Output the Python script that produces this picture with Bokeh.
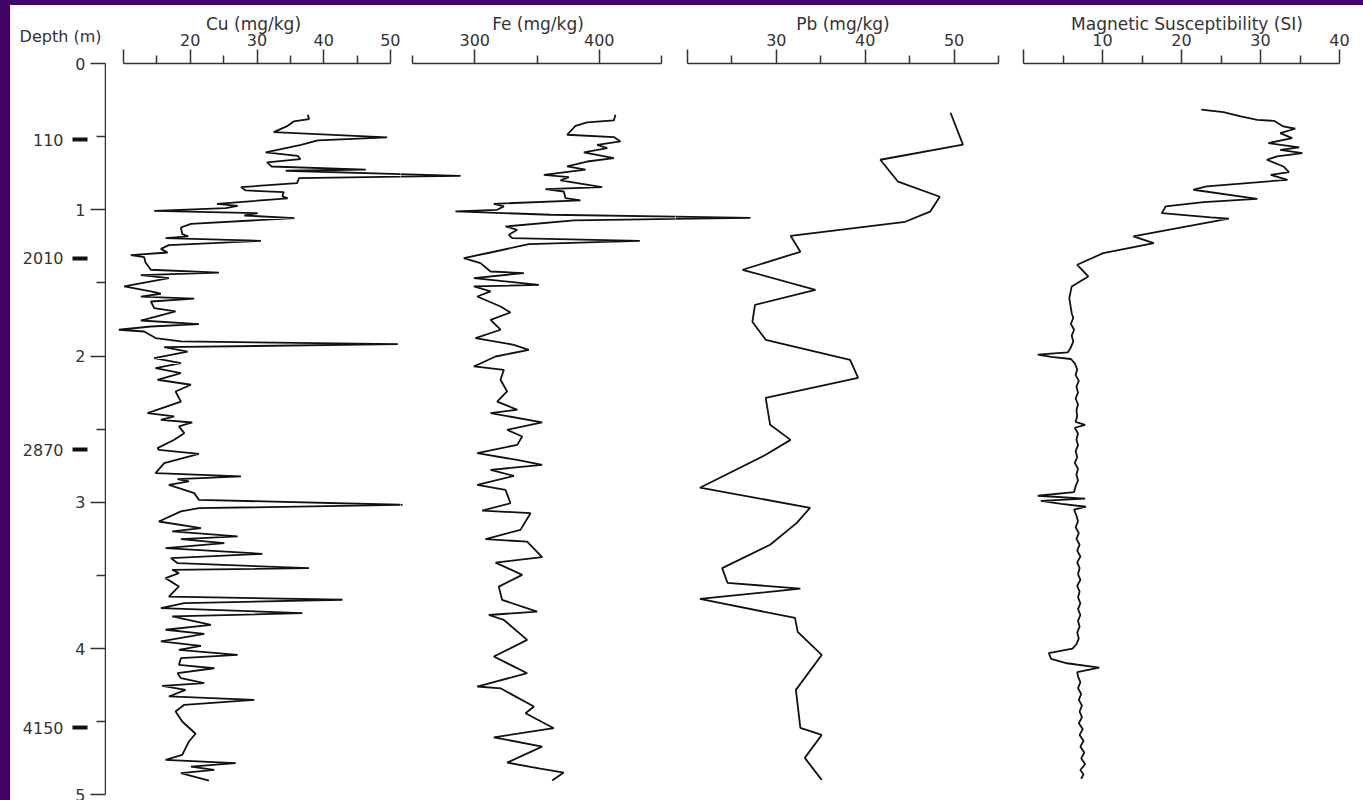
from bokeh.plotting import figure
from bokeh.layouts import row, column
from bokeh.models import Range1d, LinearAxis, FixedTicker, Title, Spacer
from bokeh.embed import file_html
from bokeh.resources import INLINE

# ---------------- data (depth in m, values) ----------------
cu_depth = [0.350, 0.380, 0.396, 0.426, 0.469, 0.505, 0.526, 0.556, 0.608, 0.631,
            0.654, 0.676, 0.704, 0.726, 0.733, 0.768, 0.783, 0.818, 0.845, 0.868,
            0.879, 0.909, 0.922, 0.959, 0.973, 0.989, 1.007, 1.023, 1.039, 1.057,
            1.096, 1.121, 1.166, 1.182, 1.194, 1.212, 1.242, 1.267, 1.292, 1.310,
            1.324, 1.360, 1.410, 1.429, 1.447, 1.467, 1.524, 1.558, 1.574, 1.593,
            1.608, 1.627, 1.672, 1.695, 1.757, 1.782, 1.798, 1.820, 1.832, 1.877,
            1.900, 1.919, 1.939, 1.969, 2.014, 2.048, 2.083, 2.117, 2.162, 2.196,
            2.242, 2.311, 2.390, 2.413, 2.436, 2.454, 2.481, 2.527, 2.572, 2.629,
            2.641, 2.668, 2.732, 2.800, 2.823, 2.841, 2.857, 2.880, 2.937, 2.983,
            3.017, 3.040, 3.062, 3.131, 3.176, 3.199, 3.233, 3.252, 3.279, 3.313,
            3.352, 3.381, 3.416, 3.450, 3.461, 3.484, 3.518, 3.575, 3.644, 3.666,
            3.689, 3.723, 3.757, 3.780, 3.837, 3.871, 3.899, 3.951, 3.981, 4.008,
            4.042, 4.065, 4.111, 4.134, 4.168, 4.202, 4.236, 4.254, 4.282, 4.327,
            4.350, 4.384, 4.430, 4.498, 4.582, 4.635, 4.726, 4.760, 4.783, 4.806,
            4.829, 4.851, 4.902]
cu_vals = [37.6, 37.8, 35.5, 34.6, 32.5, 49.5, 39.1, 36.6, 31.3, 36.1,
           36.5, 31.5, 32.2, 46.3, 34.3, 60.5, 36.3, 36.0, 27.6, 28.3,
           34.0, 33.8, 34.6, 24.0, 27.1, 25.3, 14.6, 30.1, 28.1, 35.6,
           20.1, 18.6, 18.8, 19.7, 16.3, 30.6, 16.8, 15.6, 16.6, 11.1,
           13.1, 13.3, 14.1, 24.3, 12.6, 16.8, 10.1, 14.1, 15.6, 12.6,
           20.6, 14.1, 14.6, 17.8, 12.6, 21.3, 14.1, 9.3, 13.1, 14.8,
           18.6, 51.1, 16.1, 19.6, 14.6, 18.6, 14.8, 18.6, 15.1, 20.1,
           17.8, 18.6, 13.6, 17.6, 15.6, 20.3, 18.3, 19.1, 17.6, 15.1,
           15.3, 21.3, 16.1, 14.8, 27.6, 18.1, 19.8, 16.8, 20.6, 21.3,
           51.8, 21.3, 18.6, 15.3, 21.6, 17.3, 27.1, 18.6, 25.1, 16.3,
           30.8, 17.1, 18.1, 37.8, 17.3, 18.3, 16.3, 18.3, 16.8, 42.8,
           19.1, 15.6, 36.8, 17.3, 23.1, 16.3, 22.1, 15.6, 21.6, 18.3,
           27.1, 18.6, 18.3, 23.6, 18.1, 18.6, 22.1, 15.8, 19.3, 16.8,
           29.6, 19.1, 17.8, 18.8, 20.8, 19.8, 18.8, 16.3, 26.8, 20.1,
           23.6, 18.6, 22.8]

fe_depth = [0.350, 0.389, 0.403, 0.426, 0.487, 0.503, 0.533, 0.556, 0.578, 0.608,
            0.647, 0.670, 0.704, 0.726, 0.761, 0.777, 0.799, 0.845, 0.859, 0.875,
            0.920, 0.936, 0.959, 0.977, 1.000, 1.011, 1.034, 1.055, 1.073, 1.114,
            1.137, 1.171, 1.194, 1.212, 1.235, 1.292, 1.330, 1.365, 1.422, 1.433,
            1.467, 1.513, 1.524, 1.558, 1.593, 1.661, 1.702, 1.752, 1.820, 1.877,
            1.923, 1.957, 2.003, 2.071, 2.094, 2.162, 2.242, 2.311, 2.367, 2.390,
            2.454, 2.504, 2.550, 2.607, 2.664, 2.710, 2.744, 2.778, 2.819, 2.881,
            2.915, 3.006, 3.056, 3.074, 3.188, 3.252, 3.268, 3.375, 3.412, 3.496,
            3.576, 3.667, 3.747, 3.770, 3.804, 3.940, 4.054, 4.168, 4.259, 4.271,
            4.396, 4.442, 4.544, 4.606, 4.670, 4.779, 4.818, 4.847, 4.902]
fe_vals = [413.0, 411.7, 390.3, 380.9, 374.2, 411.7, 417.1, 398.3, 406.4, 387.6,
           411.7, 390.3, 374.2, 389.0, 355.5, 375.6, 368.9, 402.3, 356.8, 371.5,
           372.9, 384.9, 315.3, 323.4, 318.0, 284.5, 360.8, 521.5, 379.6, 324.7,
           334.1, 327.4, 330.1, 432.6, 343.4, 312.7, 291.2, 304.6, 312.7, 339.4,
           299.3, 351.5, 299.3, 312.7, 302.0, 320.7, 328.7, 312.7, 320.7, 300.6,
           331.4, 343.4, 316.7, 299.3, 323.4, 320.7, 326.0, 318.0, 334.1, 312.7,
           354.1, 326.0, 338.1, 334.1, 302.0, 334.1, 354.1, 312.7, 331.4, 302.0,
           324.7, 328.7, 306.0, 344.8, 336.7, 308.6, 342.1, 354.1, 316.7, 338.1,
           319.3, 322.0, 350.1, 311.3, 323.4, 342.1, 315.3, 342.1, 302.0, 320.7,
           347.5, 340.8, 363.5, 315.3, 354.1, 326.0, 351.5, 371.5, 362.2]

pb_depth = [0.337, 0.555, 0.658, 0.808, 0.911, 1.013, 1.082, 1.178, 1.287, 1.410,
            1.547, 1.650, 1.766, 1.889, 2.026, 2.149, 2.286, 2.470, 2.573, 2.675,
            2.900, 3.037, 3.140, 3.290, 3.450, 3.550, 3.590, 3.660, 3.790, 3.885,
            4.043, 4.282, 4.542, 4.590, 4.747, 4.897]
pb_vals = [49.6, 51.0, 41.7, 43.7, 48.4, 47.3, 44.5, 31.6, 32.7, 26.2,
           34.4, 27.6, 27.3, 28.8, 38.3, 39.2, 28.8, 29.3, 31.6, 28.8,
           21.4, 33.8, 32.3, 29.3, 23.9, 24.5, 32.7, 21.4, 32.1, 32.4,
           35.1, 32.2, 32.7, 35.1, 33.2, 35.1]

ms_depth = [0.316, 0.332, 0.362, 0.385, 0.392, 0.430, 0.446, 0.476, 0.510, 0.544,
            0.574, 0.590, 0.613, 0.635, 0.658, 0.704, 0.742, 0.761, 0.795, 0.840,
            0.863, 0.925, 0.948, 0.977, 1.023, 1.052, 1.061, 1.114, 1.182, 1.228,
            1.296, 1.376, 1.456, 1.524, 1.604, 1.707, 1.74, 1.78, 1.82, 1.86,
            1.90, 1.94, 1.975, 1.99, 2.005, 2.02, 2.05, 2.09, 2.13, 2.17,
            2.21, 2.25, 2.29, 2.33, 2.37, 2.41, 2.45, 2.47, 2.49, 2.53,
            2.57, 2.61, 2.65, 2.69, 2.73, 2.77, 2.81, 2.85, 2.89, 2.93,
            2.955, 2.975, 2.99, 3.01, 3.03, 3.05, 3.09, 3.13, 3.17, 3.21,
            3.25, 3.29, 3.33, 3.37, 3.41, 3.45, 3.49, 3.53, 3.57, 3.61,
            3.65, 3.69, 3.73, 3.77, 3.81, 3.85, 3.89, 3.93, 3.97, 4.00,
            4.03, 4.07, 4.10, 4.13, 4.16, 4.19, 4.23, 4.27, 4.31, 4.35,
            4.39, 4.43, 4.47, 4.51, 4.55, 4.59, 4.63, 4.67, 4.71, 4.75,
            4.79, 4.83, 4.86, 4.89]
ms_vals = [22.5, 25.3, 27.5, 29.6, 31.7, 32.9, 34.4, 32.5, 34.0, 31.0,
           34.9, 32.5, 35.3, 32.1, 30.8, 32.9, 33.6, 31.3, 33.4, 23.2,
           21.5, 29.6, 22.8, 18.0, 17.5, 23.7, 26.0, 20.7, 13.9, 16.5,
           10.1, 6.8, 8.2, 6.1, 5.8, 6.1, 6.3, 6.0, 6.4, 6.1,
           6.3, 6.0, 5.6, 1.8, 3.5, 6.0, 6.5, 6.8, 6.6, 7.0,
           6.7, 6.9, 6.6, 6.9, 6.7, 6.8, 6.6, 7.8, 6.5, 6.9,
           6.7, 6.9, 6.6, 6.8, 6.5, 6.9, 6.7, 6.9, 6.6, 6.4,
           1.8, 7.8, 2.2, 4.8, 7.9, 6.4, 6.7, 6.9, 6.6, 7.0,
           6.7, 7.1, 6.8, 7.2, 6.8, 7.1, 6.9, 7.2, 6.8, 7.1,
           6.9, 7.2, 6.9, 7.2, 6.9, 7.1, 6.8, 7.0, 6.7, 6.2,
           3.2, 3.5, 5.5, 9.6, 6.8, 6.9, 7.2, 6.9, 7.3, 7.0,
           7.4, 7.1, 7.4, 7.0, 7.5, 7.1, 7.6, 7.2, 7.7, 7.3,
           7.8, 7.2, 7.6, 7.3]

age_depths = [0.52, 1.33, 2.64, 4.54]
age_labels = ["110", "2010", "2870", "4150"]

depth_ticks = [0, 1, 2, 3, 4, 5]
depth_minor = [0.5, 1.5, 2.5, 3.5, 4.5]

# ---------------- layout constants ----------------
PURPLE = "#3f0466"
BAND_L = 10            # purple band on the left
BAND_T = 5             # purple band on top
H = 795                # figure height (below the top band)
FRAME_TOP = 58         # border above the frames
FRAME = [106, 400, 675, 1010, 1363]          # frame edges (page px)
CU_AX = (10, 123, 50, 390)                   # value, px, value, px
FE_AX = (250, 412, 450, 661)
PB_AX = (20, 687, 55, 998)
MS_AX = (0, 1023, 40, 1339)

FONT = "DejaVu Sans"
TXT = "#333333"
AX = "#333333"
LINE = "#111111"
LW = 1.8


def lin_range(v0, p0, v1, p1, a, b):
    k = (v1 - v0) / (p1 - p0)
    return Range1d(v0 + (a - p0) * k, v0 + (b - p0) * k)


yr = Range1d(5.004, 0)


def base_fig(w, xr, left=0, yloc=None, xloc="above"):
    p = figure(width=w, height=H, x_range=xr, y_range=yr,
               x_axis_location=xloc, y_axis_location=yloc,
               toolbar_location=None, output_backend="svg",
               min_border_left=left, min_border_right=0,
               min_border_top=FRAME_TOP, min_border_bottom=5)
    p.xgrid.visible = False
    p.ygrid.visible = False
    p.outline_line_color = None
    p.background_fill_color = "white"
    p.border_fill_color = "white"
    return p


def style_axis(ax, ticks, minor, bounds, label, hide):
    ax.ticker = FixedTicker(ticks=ticks, minor_ticks=minor)
    ax.bounds = bounds
    ax.axis_label = label
    if hide is not None:
        ax.major_label_overrides = {hide: ""}
    ax.major_tick_out = 14
    ax.major_tick_in = 0
    ax.minor_tick_out = 8
    ax.minor_tick_in = 0
    ax.axis_line_width = 1.5
    ax.major_tick_line_width = 1.5
    ax.minor_tick_line_width = 1.5
    ax.axis_line_color = AX
    ax.major_tick_line_color = AX
    ax.minor_tick_line_color = AX
    ax.major_label_text_font = FONT
    ax.major_label_text_font_size = "16px"
    ax.major_label_text_color = TXT
    ax.major_label_standoff = 4
    ax.axis_label_text_font = FONT
    ax.axis_label_text_font_size = "17px"
    ax.axis_label_text_font_style = "normal"
    ax.axis_label_text_color = TXT
    ax.axis_label_standoff = -3


# ---- depth axis panel (frame 1 px wide) ----
f0 = base_fig(FRAME[0] - BAND_L, Range1d(0, 1), left=FRAME[0] - BAND_L - 1,
              yloc="left", xloc=None)
ya = f0.yaxis[0]
ya.ticker = FixedTicker(ticks=depth_ticks, minor_ticks=depth_minor)
ya.bounds = (0, 5)
ya.major_tick_out = 15
ya.major_tick_in = 0
ya.minor_tick_out = 9
ya.minor_tick_in = 0
ya.axis_line_width = 1.5
ya.major_tick_line_width = 1.5
ya.minor_tick_line_width = 1.5
ya.axis_line_color = AX
ya.major_tick_line_color = AX
ya.minor_tick_line_color = AX
ya.major_label_text_font = FONT
ya.major_label_text_font_size = "16px"
ya.major_label_text_color = TXT
ya.major_label_standoff = 5

age_ax = LinearAxis(ticker=FixedTicker(ticks=age_depths),
                    major_label_overrides={d: t for d, t in zip(age_depths, age_labels)},
                    axis_line_color=None, major_tick_in=15, major_tick_out=0,
                    major_tick_line_width=4, major_tick_line_color="#111111",
                    minor_tick_line_color=None, major_label_standoff=9,
                    major_label_text_font=FONT, major_label_text_font_size="16px",
                    major_label_text_color=TXT)
f0.add_layout(age_ax, "left")
f0.add_layout(Title(text="Depth (m)", align="right", offset=5, standoff=36,
                    text_font=FONT, text_font_size="16px", text_font_style="normal",
                    text_color=TXT), "above")

# ---- Cu panel ----
f1 = base_fig(FRAME[1] - FRAME[0], lin_range(*CU_AX, FRAME[0], FRAME[1]))
style_axis(f1.xaxis[0], [10, 20, 30, 40, 50], [15, 25, 35, 45], (10, 50), "Cu (mg/kg)", 10)
f1.line(cu_vals, cu_depth, line_color=LINE, line_width=LW)

# ---- Fe panel ----
f2 = base_fig(FRAME[2] - FRAME[1], lin_range(*FE_AX, FRAME[1], FRAME[2]))
f2.extra_x_ranges = {"cu": lin_range(*CU_AX, FRAME[1], FRAME[2])}
style_axis(f2.xaxis[0], [300, 400], [250, 350, 450], (250, 450), "Fe (mg/kg)", None)
f2.line(fe_vals, fe_depth, line_color=LINE, line_width=LW)
f2.line(cu_vals, cu_depth, line_color=LINE, line_width=LW, x_range_name="cu")

# ---- Pb panel ----
f3 = base_fig(FRAME[3] - FRAME[2], lin_range(*PB_AX, FRAME[2], FRAME[3]))
f3.extra_x_ranges = {"fe": lin_range(*FE_AX, FRAME[2], FRAME[3])}
style_axis(f3.xaxis[0], [20, 30, 40, 50], [25, 35, 45, 55], (20, 55), "Pb (mg/kg)", 20)
f3.line(pb_vals, pb_depth, line_color=LINE, line_width=LW)
f3.line(fe_vals, fe_depth, line_color=LINE, line_width=LW, x_range_name="fe")

# ---- Magnetic susceptibility panel ----
f4 = base_fig(FRAME[4] - FRAME[3], lin_range(*MS_AX, FRAME[3], FRAME[4]))
style_axis(f4.xaxis[0], [0, 10, 20, 30, 40], [5, 15, 25, 35], (0, 40),
           "Magnetic Susceptibility (SI)", 0)
f4.line(ms_vals, ms_depth, line_color=LINE, line_width=LW)

band_top = Spacer(width=FRAME[4], height=BAND_T, styles={"background-color": PURPLE})
band_left = Spacer(width=BAND_L, height=H, styles={"background-color": PURPLE})

layout = column(band_top, row(band_left, f0, f1, f2, f3, f4))

open("out.html", "w").write(file_html(layout, INLINE))
